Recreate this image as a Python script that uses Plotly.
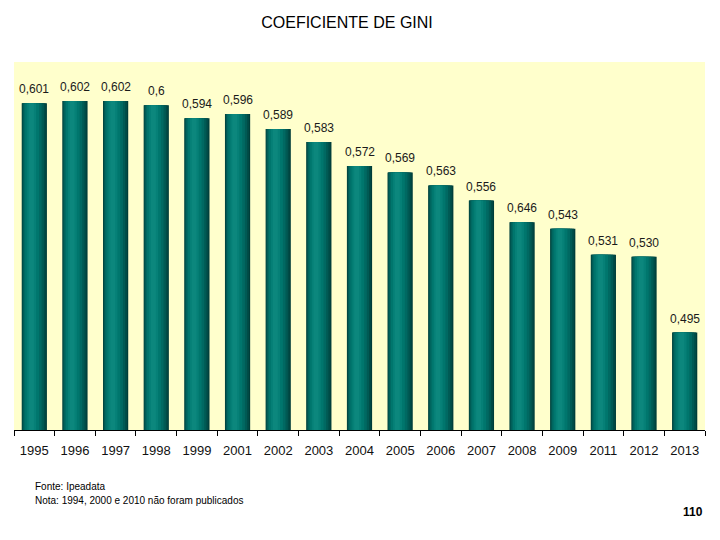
import plotly.graph_objects as go

years = ["1995", "1996", "1997", "1998", "1999", "2001", "2002", "2003", "2004",
         "2005", "2006", "2007", "2008", "2009", "2011", "2012", "2013"]
gini = [0.601, 0.602, 0.602, 0.600, 0.594, 0.596, 0.589, 0.583, 0.572,
        0.569, 0.563, 0.556, 0.546, 0.543, 0.531, 0.530, 0.495]
labels = ["0,601", "0,602", "0,602", "0,6", "0,594", "0,596", "0,589", "0,583", "0,572",
          "0,569", "0,563", "0,556", "0,646", "0,543", "0,531", "0,530", "0,495"]

# page body adds an 8px offset; compensate
OFF = 8
W, H = 720 - OFF, 540 - OFF
ML, MR, MT, MB = 14 - OFF, 15, 62 - OFF, 110

FONT = "Liberation Sans, Arial"

fig = go.Figure()

layers = [
    (0.62, "#003d39"),
    (0.58, "#004b46"),
    (0.52, "#005a54"),
    (0.44, "#006962"),
    (0.34, "#00766d"),
    (0.22, "#068077"),
    (0.12, "#0c877d"),
]
shift = [0, -0.01, -0.025, -0.04, -0.055, -0.065, -0.07]
for (w, c), off in zip(layers, shift):
    fig.add_trace(go.Bar(
        x=years, y=gini, width=w, offset=-w / 2 + off,
        marker=dict(color=c, line=dict(width=0)),
        hoverinfo="skip", showlegend=False,
    ))

pw = W - ML - MR
ph = H - MT - MB
notes = []
for i, (v, lab) in enumerate(zip(gini, labels)):
    notes.append(dict(
        text=lab, x=i, y=v, xref="x", yref="y", showarrow=False,
        yanchor="bottom", yshift=5,
        font=dict(family=FONT, size=12, color="#1a1a1a"),
    ))
for txt, px, py, size, bold in [
    ("Fonte: Ipeadata", 33, 486, 10, False),
    ("Nota: 1994, 2000 e 2010 não foram publicados", 33, 501, 10, False),
    ("110", 705, 512, 12, True),
]:
    px -= OFF
    py -= OFF
    notes.append(dict(
        text=("<b>%s</b>" % txt) if bold else txt,
        x=(px - ML) / pw, y=(H - MB - py) / ph,
        xref="paper", yref="paper", showarrow=False,
        xanchor="right" if bold else "left", yanchor="middle",
        font=dict(size=size, color="#000000"),
    ))

fig.update_layout(
    width=W, height=H,
    barmode="overlay",
    paper_bgcolor="white",
    plot_bgcolor="#FFFFCC",
    margin=dict(l=ML, r=MR, t=MT, b=MB),
    font=dict(family=FONT, color="#000000"),
    title=dict(text="COEFICIENTE DE GINI", x=(347 - OFF) / W, xanchor="center",
               y=1 - (22 - OFF) / H, yanchor="middle",
               font=dict(size=16, color="#000000")),
    xaxis=dict(type="category", range=[-0.5, len(years) - 0.5], autorange=False,
               showline=True, linecolor="#000000", linewidth=1,
               ticks="outside", tickson="boundaries", ticklen=5, tickcolor="#000000",
               tickangle=0, ticklabelstandoff=8,
               tickfont=dict(family=FONT, size=13, color="#111111"), showgrid=False),
    yaxis=dict(range=[0.45, 0.62], autorange=False, visible=False, showgrid=False),
    annotations=notes,
)

fig.write_html("out.html")
